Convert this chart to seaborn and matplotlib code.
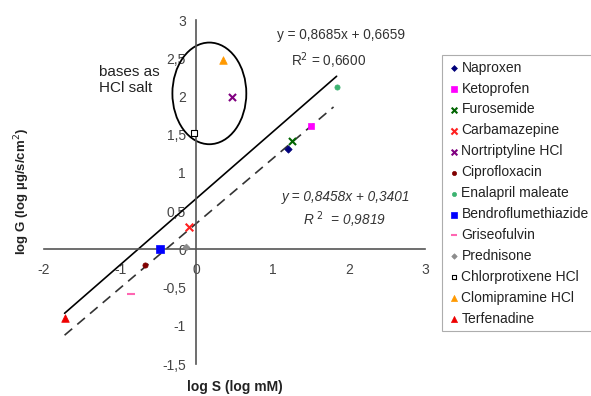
import numpy as np
import pandas as pd
import matplotlib
matplotlib.use("Agg")
import matplotlib.pyplot as plt
from matplotlib.patches import Ellipse
import seaborn as sns

# Данни, отчетени от графиката
compounds = ['Naproxen', 'Ketoprofen', 'Furosemide', 'Carbamazepine', 'Nortriptyline HCl',
             'Ciprofloxacin', 'Enalapril maleate', 'Bendroflumethiazide', 'Griseofulvin',
             'Prednisone', 'Chlorprotixene HCl', 'Clomipramine HCl', 'Terfenadine']
log_s = [1.20, 1.50, 1.26, -0.10, 0.47, -0.67, 1.84, -0.48, -0.86, -0.14, -0.03, 0.35, -1.73]
log_g = [1.31, 1.61, 1.42, 0.29, 1.99, -0.20, 2.13, 0.00, -0.58, 0.03, 1.52, 2.48, -0.90]

colors = ['#00007a', '#ff00ff', '#006400', '#ff2020', '#800080', '#800000', '#3cb371',
          '#0000ff', '#ff66b2', '#8c8c8c', 'none', '#ff9900', '#ee0000']
markers = ['D', 's', 'x', 'x', 'x', 'o', 'o', 's', '_', 'D', 's', '^', '^']
sizes = [14, 22, 26, 30, 26, 14, 14, 26, 26, 12, 16, 30, 30]

# Регресионни прави
fit_all = (0.8685, 0.6659)
fit_base = (0.8458, 0.3401)

x_ticks = [-2, -1, 0, 1, 2, 3]
y_ticks = [-1.5, -1, -0.5, 0, 0.5, 1, 1.5, 2, 2.5, 3]

df = pd.DataFrame({'name': compounds, 'logS': log_s, 'logG': log_g})

sns.set_style("white")
plt.rcParams['font.family'] = ['Liberation Sans', 'DejaVu Sans']

fig = plt.figure(figsize=(5.91, 3.96), dpi=100)
ax = fig.add_axes([44 / 591, 1 - 364 / 396, (425 - 44) / 591, (364 - 20) / 396])

# Прави
xs = np.array([df['logS'].min(), df['logS'].max()])
sns.lineplot(x=xs, y=fit_all[0] * xs + fit_all[1], color='black', lw=1.2, ax=ax)
xb = np.array([df['logS'].min(), 1.8])
sns.lineplot(x=xb, y=fit_base[0] * xb + fit_base[1], color='#333333', lw=1.2,
             linestyle=(0, (6, 4)), ax=ax)

# Точки
for i, row in df.iterrows():
    m = markers[i]
    c = colors[i]
    if m in ('x', '_'):
        sns.scatterplot(x=[row['logS']], y=[row['logG']], marker=m, color=c, s=sizes[i],
                        linewidth=1.5, label=row['name'], ax=ax, zorder=3)
    elif c == 'none':
        sns.scatterplot(x=[row['logS']], y=[row['logG']], marker=m, facecolor='white',
                        edgecolor='black', s=sizes[i], linewidth=0.8, label=row['name'],
                        ax=ax, zorder=3)
    else:
        sns.scatterplot(x=[row['logS']], y=[row['logG']], marker=m, color=c, s=sizes[i],
                        edgecolor=c, linewidth=0.5, label=row['name'], ax=ax, zorder=3)

# Елипса около солите
ax.add_patch(Ellipse((0.17, 2.04), 0.97, 1.33, fill=False, edgecolor='black', lw=1.3))
ax.text(-1.28, 2.22, 'bases as\nHCl salt', fontsize=11, ha='left', va='center',
        linespacing=1.2, color='#222222')

ax.text(1.90, 2.80, 'y = 0,8685x + 0,6659', fontsize=9.8, ha='center', va='center', color='#333333')
ax.text(1.74, 2.47, 'R$^{2}$ = 0,6600', fontsize=9.8, ha='center', va='center', color='#333333')
ax.text(1.96, 0.69, 'y = 0,8458x + 0,3401', fontsize=9.8, ha='center', va='center',
        style='italic', color='#333333')
ax.text(1.94, 0.39, 'R $^{2}$  = 0,9819', fontsize=9.8, ha='center', va='center',
        style='italic', color='#333333')

ax.set_xlim(-2, 3)
ax.set_ylim(-1.5, 3)
ax.spines['left'].set_position('zero')
ax.spines['bottom'].set_position('zero')
ax.spines['top'].set_visible(False)
ax.spines['right'].set_visible(False)
for s in ('left', 'bottom'):
    ax.spines[s].set_color('#555555')
    ax.spines[s].set_linewidth(1.2)
ax.set_xticks(x_ticks)
ax.set_xticklabels([str(t) for t in x_ticks])
ax.set_yticks(y_ticks)
ax.set_yticklabels([('%g' % t).replace('.', ',') for t in y_ticks])
ax.tick_params(axis='both', labelsize=10, labelcolor='#444444', color='#555555',
               direction='out', length=4, width=1.0)
ax.tick_params(axis='x', pad=6)
ax.set_xlabel('')
ax.set_ylabel('')

fig.text(235 / 591, 1 - 387 / 396, 'log S (log mM)', fontsize=10, fontweight='bold',
         ha='center', va='center', color='#222222')
fig.text(22 / 591, 1 - 191 / 396, 'log G (log µg/s/cm$^{2}$)', fontsize=9.5, fontweight='bold',
         ha='center', va='center', rotation=90, color='#222222')

handles, labels = ax.get_legend_handles_labels()
ax.get_legend().remove()
leg = fig.legend(handles, labels, loc='upper left', bbox_to_anchor=(442 / 591, 1 - 55 / 396),
                 fontsize=10, frameon=True, fancybox=False, handletextpad=0.1,
                 handlelength=0.9, labelspacing=0.5, borderpad=0.4, markerscale=0.8,
                 borderaxespad=0)
leg.get_frame().set_edgecolor('#999999')
leg.get_frame().set_linewidth(0.8)
for t in leg.get_texts():
    t.set_color('#222222')

plt.savefig("out.png", dpi=100)
